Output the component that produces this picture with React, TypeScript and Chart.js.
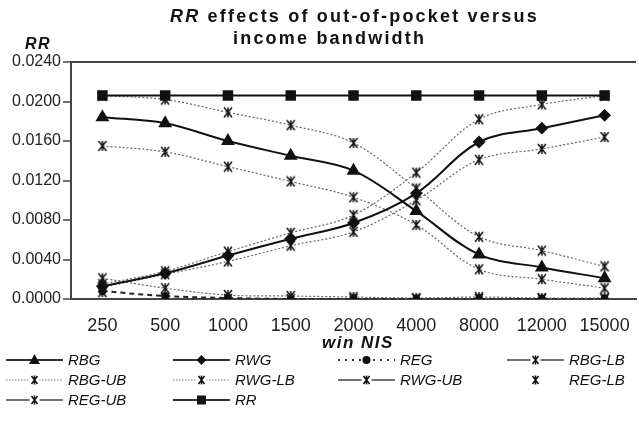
import React, { useEffect, useRef } from 'react';
import { Chart, registerables } from 'chart.js';

Chart.register(...registerables);

const categories = ['250', '500', '1000', '1500', '2000', '4000', '8000', '12000', '15000'];
const RBG = [0.0184, 0.0178, 0.0160, 0.0145, 0.0130, 0.0089, 0.0045, 0.0032, 0.0021];
const RWG = [0.0013, 0.0026, 0.0044, 0.0061, 0.0077, 0.0107, 0.0159, 0.0173, 0.0186];
const REG = [0.0008, 0.0003, 0.0001, 0.0000, 0.0000, 0.0000, 0.0000, 0.0000, 0.0000];
const RBG_LB = [0.0155, 0.0149, 0.0134, 0.0119, 0.0103, 0.0075, 0.0030, 0.0020, 0.0011];
const RBG_UB = [0.0206, 0.0202, 0.0189, 0.0176, 0.0158, 0.0112, 0.0063, 0.0049, 0.0033];
const RWG_LB = [0.0012, 0.0025, 0.0038, 0.0054, 0.0068, 0.0100, 0.0141, 0.0152, 0.0164];
const RWG_UB = [0.0015, 0.0028, 0.0048, 0.0067, 0.0085, 0.0128, 0.0182, 0.0197, 0.0206];
const REG_LB = [0.0007, 0.0001, 0.0000, 0.0000, 0.0000, 0.0000, 0.0000, 0.0000, 0.0000];
const REG_UB = [0.0021, 0.0011, 0.0004, 0.0003, 0.0002, 0.0001, 0.0002, 0.0001, 0.0001];
const RR = [0.0206, 0.0206, 0.0206, 0.0206, 0.0206, 0.0206, 0.0206, 0.0206, 0.0206];
const yTicks = [0, 0.004, 0.008, 0.012, 0.016, 0.02, 0.024];

const FONT = '"Liberation Sans", Arial, Helvetica, sans-serif';

function makeStar(size: number, lw: number, color: string) {
  const c = document.createElement('canvas');
  c.width = size;
  c.height = size;
  const g = c.getContext('2d')!;
  g.strokeStyle = color;
  g.lineWidth = lw;
  const m = size / 2;
  const r = size / 2 - 1;
  g.beginPath();
  g.moveTo(m - r * 0.8, m - r);
  g.lineTo(m + r * 0.8, m + r);
  g.moveTo(m + r * 0.8, m - r);
  g.lineTo(m - r * 0.8, m + r);
  g.moveTo(m, m - r);
  g.lineTo(m, m + r);
  g.stroke();
  return c;
}

type Kind = 'tri' | 'dia' | 'dotcircle' | 'thinstar' | 'dotstar' | 'solidstar' | 'star' | 'square';
const legendItems: { label: string; kind: Kind; col: number; row: number }[] = [
  { label: 'RBG', kind: 'tri', col: 0, row: 0 },
  { label: 'RWG', kind: 'dia', col: 1, row: 0 },
  { label: 'REG', kind: 'dotcircle', col: 2, row: 0 },
  { label: 'RBG-LB', kind: 'thinstar', col: 3, row: 0 },
  { label: 'RBG-UB', kind: 'dotstar', col: 0, row: 1 },
  { label: 'RWG-LB', kind: 'dotstar', col: 1, row: 1 },
  { label: 'RWG-UB', kind: 'solidstar', col: 2, row: 1 },
  { label: 'REG-LB', kind: 'star', col: 3, row: 1 },
  { label: 'REG-UB', kind: 'solidstar', col: 0, row: 2 },
  { label: 'RR', kind: 'square', col: 1, row: 2 },
];
const colX = [6, 173, 338, 507];
const rowY = [360, 380, 400];

function Sample({ kind }: { kind: Kind }) {
  const w = 57;
  const h = 14;
  const cy = 7;
  const cx = w / 2;
  const star = (
    <path
      d={`M${cx - 3},${cy - 4} L${cx + 3},${cy + 4} M${cx + 3},${cy - 4} L${cx - 3},${cy + 4} M${cx},${cy - 4.5} L${cx},${cy + 4.5}`}
      stroke="#111"
      strokeWidth={1.5}
      fill="none"
    />
  );
  let line: React.ReactNode = null;
  let marker: React.ReactNode = null;
  if (kind === 'tri' || kind === 'dia' || kind === 'square') {
    line = <line x1={0} y1={cy} x2={w} y2={cy} stroke="#333" strokeWidth={2} />;
  } else if (kind === 'dotcircle') {
    line = <line x1={0} y1={cy} x2={w} y2={cy} stroke="#333" strokeWidth={2} strokeDasharray="2,5" />;
  } else if (kind === 'thinstar' || kind === 'solidstar') {
    line = <line x1={0} y1={cy} x2={w} y2={cy} stroke="#444" strokeWidth={1.3} />;
  } else if (kind === 'dotstar') {
    line = <line x1={0} y1={cy} x2={w} y2={cy} stroke="#777" strokeWidth={1.2} strokeDasharray="1.5,1.5" />;
  }
  if (kind === 'tri') marker = <polygon points={`${cx},${cy - 6} ${cx + 5.5},${cy + 4} ${cx - 5.5},${cy + 4}`} fill="#111" />;
  else if (kind === 'dia') marker = <polygon points={`${cx},${cy - 5} ${cx + 5},${cy} ${cx},${cy + 5} ${cx - 5},${cy}`} fill="#111" />;
  else if (kind === 'square') marker = <rect x={cx - 4.5} y={cy - 4.5} width={9} height={9} fill="#111" />;
  else if (kind === 'dotcircle') marker = <circle cx={cx} cy={cy} r={4} fill="#111" />;
  else marker = star;
  const needsGap = kind === 'thinstar' || kind === 'solidstar' || kind === 'dotstar';
  return (
    <svg width={w} height={h} style={{ position: 'absolute', left: 0, top: 0 }}>
      {line}
      {needsGap ? <rect x={cx - 5} y={cy - 2} width={10} height={4} fill="white" /> : null}
      {marker}
    </svg>
  );
}

export default function App() {
  const canvasRef = useRef<HTMLCanvasElement | null>(null);

  useEffect(() => {
    document.body.style.margin = '0';
    const canvas = canvasRef.current;
    if (!canvas) return;
    const star = makeStar(12, 1.5, '#111');
    const band = {
      borderColor: '#666',
      borderWidth: 1.2,
      borderDash: [2, 2],
      pointStyle: star as any,
      pointRadius: 6,
      tension: 0.35,
      fill: false,
    };
    const chart = new Chart(canvas, {
      type: 'line',
      data: {
        labels: categories,
        datasets: [
          { label: 'RR', data: RR, borderColor: '#111', borderWidth: 2, pointStyle: 'rect', pointRadius: 6, pointBackgroundColor: '#111', pointBorderColor: '#111', tension: 0 },
          { label: 'RBG', data: RBG, borderColor: '#111', borderWidth: 2, pointStyle: 'triangle', pointRadius: 6, pointBackgroundColor: '#111', pointBorderColor: '#111', tension: 0.35 },
          { label: 'RWG', data: RWG, borderColor: '#111', borderWidth: 2, pointStyle: 'rectRot', pointRadius: 5, pointBackgroundColor: '#111', pointBorderColor: '#111', tension: 0.35 },
          { label: 'REG', data: REG, borderColor: '#222', borderWidth: 2, borderDash: [5, 4], pointStyle: 'circle', pointRadius: 3, pointBackgroundColor: '#111', pointBorderColor: '#111', tension: 0.35 },
          { label: 'RBG-UB', data: RBG_UB, ...band },
          { label: 'RBG-LB', data: RBG_LB, ...band },
          { label: 'RWG-UB', data: RWG_UB, ...band },
          { label: 'RWG-LB', data: RWG_LB, ...band },
          { label: 'REG-UB', data: REG_UB, ...band },
          { label: 'REG-LB', data: REG_LB, ...band, showLine: false },
        ],
      },
      options: {
        animation: false,
        responsive: false,
        devicePixelRatio: 1,
        layout: { padding: { top: 62, left: 0, right: 0, bottom: 0 } },
        plugins: { legend: { display: false }, title: { display: false }, tooltip: { enabled: false } },
        scales: {
          x: {
            type: 'category',
            offset: true,
            grid: { display: false },
            border: { display: true, color: '#444', width: 2 },
            ticks: { font: { family: FONT, size: 18 }, color: '#222', padding: 8, maxRotation: 0, autoSkip: false },
            afterFit: (s: any) => {
              s.height = 122;
            },
          },
          y: {
            min: 0,
            max: 0.024,
            afterBuildTicks: (s: any) => {
              s.ticks = yTicks.map((v) => ({ value: v }));
            },
            ticks: {
              font: { family: FONT, size: 16 },
              color: '#222',
              padding: 2,
              callback: (v: any) => Number(v).toFixed(4),
            },
            grid: {
              drawOnChartArea: true,
              color: (ctx: any) => (ctx.tick && ctx.tick.value >= 0.0239 ? '#444' : 'rgba(0,0,0,0)'),
              lineWidth: 2,
              tickColor: '#444',
              tickLength: 8,
              tickWidth: 1.5,
            },
            border: { display: true, color: '#444', width: 2 },
            afterFit: (s: any) => {
              s.width = 71;
            },
          },
        },
      },
    });
    return () => chart.destroy();
  }, []);

  const textBase: React.CSSProperties = { position: 'absolute', fontFamily: FONT, color: '#111', whiteSpace: 'nowrap', lineHeight: 1 };

  return (
    <div style={{ position: 'fixed', left: 0, top: 0, width: 639, height: 421, overflow: 'hidden', background: '#fff' }}>
      <canvas ref={canvasRef} width={644} height={421} style={{ position: 'absolute', left: 0, top: 0, width: 644, height: 421 }} />
      <div style={{ ...textBase, left: 170, top: 7, fontSize: 18, fontWeight: 'bold', letterSpacing: '2.2px' }}>
        <i>RR</i> effects of out-of-pocket versus
      </div>
      <div style={{ ...textBase, left: 233, top: 29, fontSize: 18, fontWeight: 'bold', letterSpacing: '2.2px' }}>income bandwidth</div>
      <div style={{ ...textBase, left: 25, top: 36, fontSize: 16, fontWeight: 'bold', fontStyle: 'italic', letterSpacing: '1.5px' }}>RR</div>
      <div style={{ ...textBase, left: 322, top: 334, fontSize: 17, fontWeight: 'bold', fontStyle: 'italic', letterSpacing: '1.5px' }}>win NIS</div>
      {legendItems.map((it) => (
        <div key={it.label} style={{ position: 'absolute', left: colX[it.col], top: rowY[it.row] - 7, height: 14 }}>
          <div style={{ position: 'absolute', left: 0, top: 0, width: 57, height: 14 }}>
            <Sample kind={it.kind} />
          </div>
          <div style={{ ...textBase, left: 62, top: -1, fontSize: 15, fontStyle: 'italic' }}>{it.label}</div>
        </div>
      ))}
    </div>
  );
}
